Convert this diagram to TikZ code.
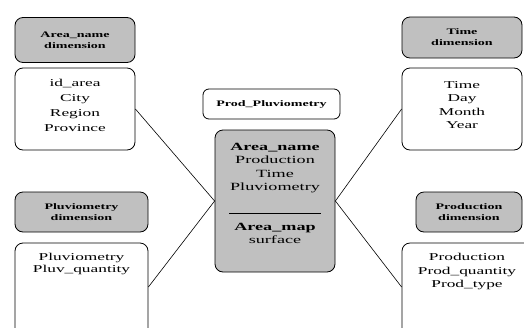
\documentclass[tikz,border=0pt]{standalone}
\usepackage{fontspec}
\setmainfont[FakeStretch=1.65]{Liberation Serif}
\usetikzlibrary{positioning}
\definecolor{headgray}{RGB}{192,192,192}

\begin{document}
\begin{tikzpicture}[x=1pt,y=-1pt,
		box/.style={draw,rounded corners=8pt,line width=0.8pt,inner sep=0pt},
		head/.style={box,fill=headgray,align=center,font=\fontsize{8.5}{11}\selectfont\bfseries},
		attr/.style={box,fill=white},
		txt/.style={align=center,inner sep=0pt,font=\fontsize{10.5}{14}\selectfont}]
	\useasboundingbox (0,0) rectangle (524,327);
	\clip (0,0) rectangle (524,327);
	% dimension tables
	\node[head,minimum width=120pt,minimum height=45pt] (areaHead) at (75,40)    {Area\_name\\dimension};
	\node[attr,minimum width=120pt,minimum height=82pt] (areaAttr) at (75,109)   {};
	\node[txt,font=\fontsize{10.5}{15}\selectfont]      (areaTxt)  at (75,105.5) {id\_area\\City\\Region\\Province};
	\node[head,minimum width=133pt,minimum height=40pt] (pluvHead) at (81.5,212) {Pluviometry\\dimension};
	\node[attr,minimum width=133pt,minimum height=97pt] (pluvAttr) at (81.5,291.5) {};
	\node[txt,font=\fontsize{10.5}{12.5}\selectfont]    (pluvTxt)  at (81.5,264) {Pluviometry\\Pluv\_quantity};
	\node[head,minimum width=120pt,minimum height=41pt] (timeHead) at (462,37.5) {Time\\dimension};
	\node[attr,minimum width=120pt,minimum height=82pt] (timeAttr) at (462,109)  {};
	\node[txt,font=\fontsize{10.5}{13.3}\selectfont]    (timeTxt)  at (462,105)  {Time\\Day\\Month\\Year};
	\node[head,minimum width=106pt,minimum height=40pt] (prodHead) at (469,212)  {Production\\dimension};
	\node[attr,minimum width=138pt,minimum height=97pt] (prodAttr) at (471,291.5) {};
	\node[txt,font=\fontsize{10.5}{13.5}\selectfont]    (prodTxt)  at (467,271.5) {Production\\Prod\_quantity\\Prod\_type};
	% fact table
	\node[box,rounded corners=6pt,minimum width=137pt,minimum height=30pt,font=\fontsize{8.5}{11}\selectfont\bfseries]
		(factName) at (271.5,104) {Prod\_Pluviometry};
	\node[box,fill=headgray,minimum width=120pt,minimum height=142pt] (fact) at (275,201) {};
	\node[txt,font=\fontsize{11}{13.5}\selectfont] (factKeys) at (275,168)
		{\textbf{Area\_name}\\Production\\Time\\Pluviometry};
	\node[txt,font=\fontsize{11}{13}\selectfont] (factMeas) at (275,233.5)
		{\textbf{Area\_map}\\surface};
	\coordinate (sepL) at (229,213);
	\coordinate (sepR) at (321,213);
	\draw[line width=0.8pt] (sepL) -- (sepR);
	% links
	\draw[line width=0.6pt] (areaAttr.east) -- (fact.west);
	\draw[line width=0.6pt] ([yshift=4.5pt]pluvAttr.east) -- (fact.west);
	\draw[line width=0.6pt] (timeAttr.west) -- (fact.east);
	\draw[line width=0.6pt] ([yshift=4.5pt]prodAttr.west) -- (fact.east);
\end{tikzpicture}
\end{document}
